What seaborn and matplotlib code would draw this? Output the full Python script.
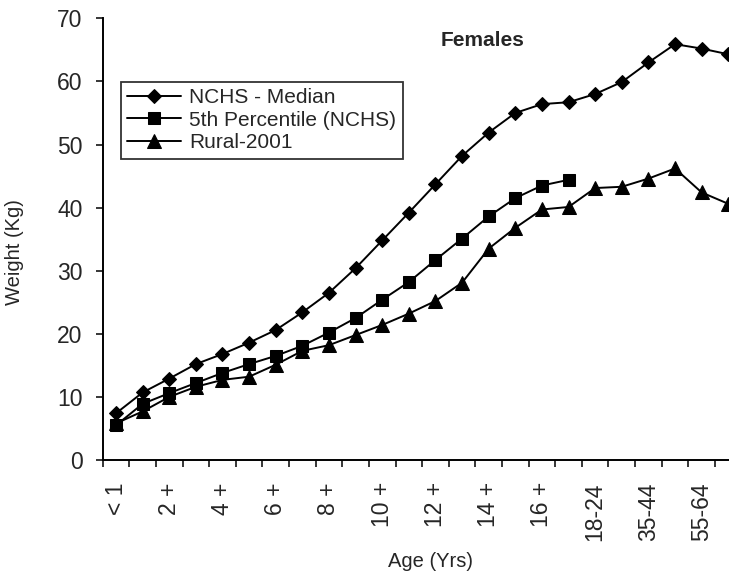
import numpy as np
import pandas as pd
import seaborn as sns
import matplotlib
matplotlib.use("Agg")
import matplotlib.pyplot as plt
from matplotlib.ticker import FixedLocator

# Data
age_groups = ["< 1", "1 +", "2 +", "3 +", "4 +", "5 +", "6 +", "7 +", "8 +",
              "9 +", "10 +", "11 +", "12 +", "13 +", "14 +", "15 +", "16 +",
              "17 +", "18-24", "25-34", "35-44", "45-54", "55-64", "65 +"]
nchs_median = [7.4, 10.7, 12.9, 15.2, 16.8, 18.6, 20.6, 23.4, 26.5, 30.4,
               34.8, 39.2, 43.7, 48.2, 51.9, 55.0, 56.4, 56.7, 58.0, 59.9,
               63.0, 65.9, 65.2, 64.3]
nchs_p5 = [5.5, 8.9, 10.6, 12.2, 13.8, 15.2, 16.5, 18.1, 20.2, 22.5, 25.4,
           28.2, 31.7, 35.1, 38.6, 41.5, 43.5, 44.4]
rural_2001 = [5.8, 7.7, 10.0, 11.6, 12.7, 13.2, 15.1, 17.3, 18.2, 19.8,
              21.4, 23.2, 25.2, 28.1, 33.5, 36.8, 39.7, 40.1, 43.1, 43.3,
              44.6, 46.2, 42.4, 40.6]
series_names = ["NCHS - Median", "5th Percentile (NCHS)", "Rural-2001"]

frames = []
for name, vals in zip(series_names, [nchs_median, nchs_p5, rural_2001]):
    frames.append(pd.DataFrame({"pos": np.arange(len(vals)),
                                "weight": vals, "series": name}))
df = pd.concat(frames, ignore_index=True)

sns.set_style("white")
plt.rcParams['font.family'] = ['Liberation Sans', 'DejaVu Sans']

W, H = 729, 574
fig = plt.figure(figsize=(W / 100, H / 100), dpi=100)
# axes box in pixels: left 102.7, right 741.6, top 18.3, bottom 460
ax = fig.add_axes([102.7 / W, (H - 460) / H, 638.9 / W, 441.7 / H])

markers = {"NCHS - Median": "D", "5th Percentile (NCHS)": "s",
           "Rural-2001": "^"}
sizes = {"NCHS - Median": 7, "5th Percentile (NCHS)": 9,
         "Rural-2001": 9.5}
for name in series_names:
    sub = df[df["series"] == name]
    sns.lineplot(data=sub, x="pos", y="weight", ax=ax, color="black",
                 marker=markers[name], markersize=sizes[name],
                 markeredgecolor="black", markerfacecolor="black",
                 linewidth=1.4, label=name, clip_on=False)

ax.set_xlim(-0.5, len(age_groups) - 0.5)
ax.set_ylim(0, 70)
ax.set_yticks(range(0, 71, 10))

# labels on every other category, tick marks on category boundaries
ax.xaxis.set_major_locator(FixedLocator(np.arange(0, len(age_groups), 2)))
ax.set_xticklabels(age_groups[::2], rotation=90)
ax.xaxis.set_minor_locator(FixedLocator(np.arange(-0.5, len(age_groups), 1)))
ax.tick_params(axis="x", which="major", length=0, pad=16, labelsize=16.5)
ax.tick_params(axis="x", which="minor", length=5, width=1.1,
               direction="out", color="black", bottom=True)
ax.tick_params(axis="y", length=5, width=1.1, direction="out",
               color="black", pad=9.5, labelsize=16.5, left=True)

for side in ["top", "right"]:
    ax.spines[side].set_visible(False)
for side in ["left", "bottom"]:
    ax.spines[side].set_color("black")
    ax.spines[side].set_linewidth(1.4)

ax.set_xlabel("Age (Yrs)", fontsize=14.5)
ax.set_ylabel("Weight (Kg)", fontsize=14.5)
ax.xaxis.set_label_coords((430 - 102.7) / 638.9, (460 - 552) / 441.7)
ax.yaxis.set_label_coords((24 - 102.7) / 638.9, (460 - 252) / 441.7)

fig.text(483 / W, 1 - 40 / H, "Females", fontsize=15, fontweight="bold",
         ha="center", va="center")

leg = ax.legend(loc="upper left", bbox_to_anchor=(120.7 / W, 1 - 81.7 / H),
                bbox_transform=fig.transFigure, fontsize=15,
                frameon=True, fancybox=False, borderaxespad=0,
                handlelength=2.6, handletextpad=0.4, labelspacing=0.18,
                borderpad=0.3)
leg.get_frame().set_edgecolor("black")
leg.get_frame().set_linewidth(1.3)

fig.savefig("out.png", dpi=100)
